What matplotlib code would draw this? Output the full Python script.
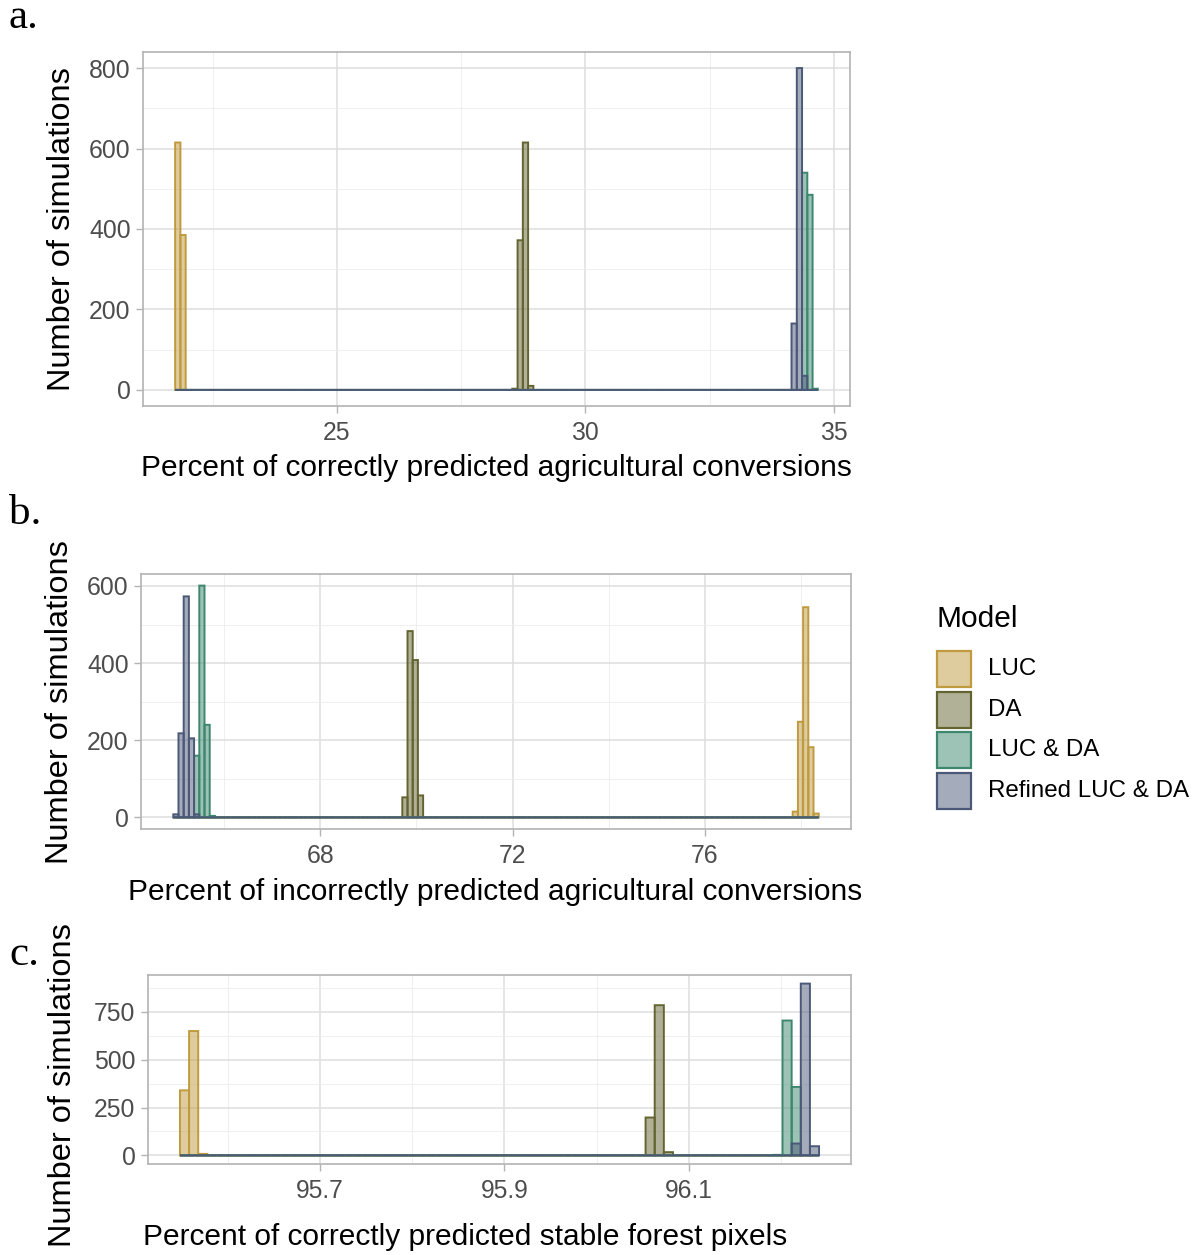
import numpy as np
import matplotlib.pyplot as plt
from matplotlib.colors import to_rgba
from matplotlib.patches import Rectangle

plt.rcParams['font.family'] = ['Liberation Sans', 'DejaVu Sans']

W, H = 1195, 1255

models = ["LUC", "DA", "LUC & DA", "Refined LUC & DA"]
edge_colors = ["#C09A3E", "#646432", "#3C876E", "#4B5878"]

# panel a: correctly predicted agricultural conversions
a_start, a_width, a_nbins = 21.746, 0.106, 122
a_first = [0, 64, 119, 117]
a_counts = [[615, 385], [3, 372, 615, 10], [540, 485, 3], [165, 800, 35]]
a_xticks = [25, 30, 35]
a_yticks = [0, 200, 400, 600, 800]

# panel b: incorrectly predicted agricultural conversions
b_start, b_width, b_nbins = 64.94, 0.1083, 124
b_first = [119, 44, 4, 0]
b_counts = [[15, 248, 545, 182, 10], [52, 483, 408, 57], [160, 601, 240, 4], [8, 218, 573, 205, 8]]
b_xticks = [68, 72, 76]
b_yticks = [0, 200, 400, 600]

# panel c: correctly predicted stable forest pixels
c_start, c_width, c_nbins = 95.548, 0.009906, 70
c_first = [0, 51, 65, 67]
c_counts = [[340, 650, 8], [198, 785, 17], [3, 705, 358], [62, 898, 48]]
c_xticks = [95.7, 95.9, 96.1]
c_yticks = [0, 250, 500, 750]


def px_axes(left, top, right, bottom):
    return [left / W, 1 - bottom / H, (right - left) / W, (bottom - top) / H]


def draw_panel(ax, start, width, nbins, firsts, counts, xticks, yticks, xlabs):
    left = start + width * np.arange(nbins)
    for col, first, vals in zip(edge_colors, firsts, counts):
        h = np.zeros(nbins)
        h[first:first + len(vals)] = vals
        ax.bar(left, h, width=width, align='edge', facecolor=to_rgba(col, 0.5),
               edgecolor=col, linewidth=1.4, zorder=3, snap=False)
    lo, hi = start, start + nbins * width
    pad = 0.05 * (hi - lo)
    x0, x1 = lo - pad, hi + pad
    ymax = max(max(c) for c in counts)
    y0, y1 = -0.05 * ymax, 1.05 * ymax
    dx = xticks[1] - xticks[0]
    dy = yticks[1] - yticks[0]
    xminor = [t for t in [xticks[0] - dx / 2] + [t + dx / 2 for t in xticks] if x0 < t < x1]
    yminor = [t + dy / 2 for t in yticks if t + dy / 2 < y1]
    ax.set_xticks(xticks)
    ax.set_xticklabels(xlabs)
    ax.set_yticks(yticks)
    ax.set_xticks(xminor, minor=True)
    ax.set_yticks(yminor, minor=True)
    ax.set_xlim(x0, x1)
    ax.set_ylim(y0, y1)
    ax.grid(which='major', color='#DEDEDE', linewidth=1.1, zorder=0)
    ax.grid(which='minor', color='#EDEDED', linewidth=0.6, zorder=0)
    ax.set_axisbelow(True)
    for s in ax.spines.values():
        s.set_color('#B3B3B3')
        s.set_linewidth(1.2)
    ax.tick_params(which='major', color='#B3B3B3', labelcolor='#4D4D4D',
                   labelsize=17.8, length=5, width=1, pad=4)
    ax.tick_params(axis='x', which='major', pad=6)
    ax.tick_params(which='minor', length=0)


fig = plt.figure(figsize=(W / 100, H / 100), dpi=100)

ax_a = fig.add_axes(px_axes(143, 52, 850, 406))
draw_panel(ax_a, a_start, a_width, a_nbins, a_first, a_counts, a_xticks, a_yticks,
           ["25", "30", "35"])
ax_b = fig.add_axes(px_axes(141, 574, 851, 829))
draw_panel(ax_b, b_start, b_width, b_nbins, b_first, b_counts, b_xticks, b_yticks,
           ["68", "72", "76"])
ax_c = fig.add_axes(px_axes(148, 975, 851, 1164))
draw_panel(ax_c, c_start, c_width, c_nbins, c_first, c_counts, c_xticks, c_yticks,
           ["95.7", "95.9", "96.1"])


def ftext(x, y, s, **kw):
    fig.text(x / W, 1 - y / H, s, **kw)


title_size = 21.5
ylab_size = 23.4
ftext(496, 468, "Percent of correctly predicted agricultural conversions",
      ha='center', va='center', fontsize=title_size)
ftext(495, 892, "Percent of incorrectly predicted agricultural conversions",
      ha='center', va='center', fontsize=title_size)
ftext(465, 1237, "Percent of correctly predicted stable forest pixels",
      ha='center', va='center', fontsize=title_size)
ftext(62, 229, "Number of simulations", rotation=90, ha='center', va='center',
      fontsize=ylab_size)
ftext(60, 702, "Number of simulations", rotation=90, ha='center', va='center',
      fontsize=ylab_size)
ftext(63, 1085, "Number of simulations", rotation=90, ha='center', va='center',
      fontsize=ylab_size)

for lab, y in [("a.", 18), ("b.", 514), ("c.", 955)]:
    ftext(9, y, lab, ha='left', va='center', fontsize=31, family='Liberation Serif')

# legend drawn in its own pixel-space axes
ax_leg = fig.add_axes(px_axes(920, 590, 1195, 830))
ax_leg.set_xlim(920, 1195)
ax_leg.set_ylim(830, 590)
ax_leg.axis('off')
ax_leg.text(936, 619, "Model", ha='left', va='center', fontsize=21.5)
for i, (name, col) in enumerate(zip(models, edge_colors)):
    top = 651 + i * 40.7
    ax_leg.add_patch(Rectangle((937, top), 34, 36, facecolor=to_rgba(col, 0.5),
                               edgecolor=col, linewidth=1.6))
    ax_leg.text(988, top + 18, name, ha='left', va='center', fontsize=17.4)

fig.savefig("out.png", dpi=100)
